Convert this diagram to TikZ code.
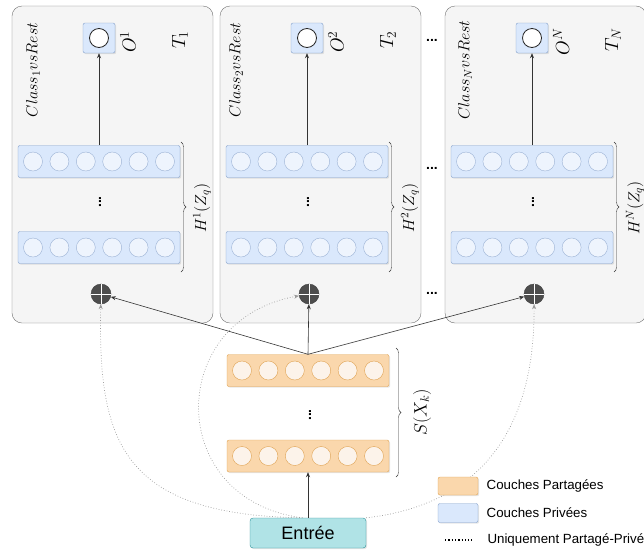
\RequirePackage{fix-cm}
\documentclass[tikz,border=0pt]{standalone}
\usepackage{amsmath,amssymb}
\usepackage{fontspec}
\setsansfont{Liberation Sans}
\usepackage{tikz}
\usepackage{xcolor}
\usetikzlibrary{arrows.meta,shadows,decorations.pathreplacing}

\definecolor{panelfill}{HTML}{F5F5F5}
\definecolor{paneldraw}{HTML}{707070}
\definecolor{privfill}{HTML}{DAE8FC}
\definecolor{privdraw}{HTML}{829FCA}
\definecolor{privcellfill}{HTML}{EEF4FD}
\definecolor{sharefill}{HTML}{FAD7AC}
\definecolor{sharedraw}{HTML}{DFA150}
\definecolor{sharecellfill}{HTML}{FCF3EA}
\definecolor{inputfill}{HTML}{B0E3E6}
\definecolor{inputdraw}{HTML}{2E9299}
\definecolor{plusfill}{HTML}{4D4D4D}

\begin{document}
\begin{tikzpicture}[x=1pt,y=-1pt]
	\tikzstyle{panel} = [draw=paneldraw, fill=panelfill, rounded corners=10pt, minimum width=201pt, minimum height=317pt, inner sep=0pt]
	\tikzstyle{privlayer} = [draw=privdraw, fill=privfill, rounded corners=2pt, minimum width=162pt, minimum height=32pt, inner sep=0pt, drop shadow={shadow xshift=1.2pt, shadow yshift=-1.2pt, opacity=.2}]
	\tikzstyle{sharelayer} = [privlayer, draw=sharedraw, fill=sharefill]
	\tikzstyle{privcell} = [draw=privdraw!80, fill=privcellfill]
	\tikzstyle{sharecell} = [draw=sharedraw, fill=sharecellfill]
	\tikzstyle{outbox} = [privlayer, minimum width=32pt, minimum height=30pt]
	\tikzstyle{outcell} = [circle, draw=black!85, fill=white, line width=0.8pt, minimum size=19pt, inner sep=0pt]
	\tikzstyle{plus} = [circle, draw=plusfill!80!black, fill=plusfill, minimum size=20pt, inner sep=0pt]
	\tikzstyle{mathlab} = [rotate=90, inner sep=0pt, font=\fontsize{16}{19}\selectfont]
	\tikzstyle{biglab} = [mathlab, font=\fontsize{19}{22}\selectfont]
	\tikzstyle{dotsnode} = [inner sep=0pt, font=\sffamily\bfseries\fontsize{14}{14}\selectfont]
	\tikzstyle{brace} = [draw=black!80, decorate, decoration={brace, amplitude=5pt}]
	\tikzstyle{arr} = [draw=black!80, line width=0.6pt, -{Stealth[length=5pt,width=4pt]}]
	\tikzstyle{shareonly} = [draw=black!40, dotted, line width=0.7pt, -{Stealth[length=5pt,width=4pt]}]
	\tikzstyle{inputbox} = [draw=inputdraw, fill=inputfill, rounded corners=3pt, minimum width=116pt, minimum height=30pt, inner sep=0pt, font=\sffamily\fontsize{18}{20}\selectfont, drop shadow={shadow xshift=1.2pt, shadow yshift=-1.2pt, opacity=.2}]
	\tikzstyle{legendtext} = [font=\sffamily\fontsize{13.3}{15}\selectfont, label distance=5pt]
	\useasboundingbox (0,0) rectangle (644,552);

	% one panel per class
	\foreach \k/\dx/\cx in {1/0/33, 2/208/236, N/433/465} {
		\node[panel] (panel\k) at ({112.5+\dx},164.5) {};
		\node[outbox] (out\k) at ({99+\dx},38) {};
		\node[outcell] (oc\k) at (out\k) {};
		\node[biglab] (olab\k) at ({128+\dx},42) {$O^{\k}$};
		\node[biglab] (tlab\k) at ({180+\dx},40) {$T_{\k}$};
		\node[mathlab] (clab\k) at (\cx,70) {$Class_{\k}vsRest$};
		\node[privlayer] (ha\k) at ({99+\dx},161.5) {};
		\node[privlayer] (hb\k) at ({99+\dx},247.5) {};
		\foreach \i in {-2.5,-1.5,...,2.5}
			\filldraw[privcell] (ha\k) ++({\i*26.4},0) circle (9.5pt)
			                    (hb\k) ++({\i*26.4},0) circle (9.5pt);
		\node[dotsnode, rotate=90] (vd\k) at ({100+\dx},202) {...};
		\draw[brace] ({181+\dx},142) -- ({181+\dx},272);
		\node[mathlab] (hlab\k) at ({202+\dx},208) {$H^{\k}(Z_q)$};
		\node[plus] (plus\k) at ({101+\dx},294) {};
		\draw[white, line width=0.8pt] (plus\k.north) -- (plus\k.south)
		                               (plus\k.west) -- (plus\k.east);
		\draw[arr] (ha\k.north) -- (out\k.south);
	}
	\node[dotsnode] (dotsa) at (432,40) {...};
	\node[dotsnode] (dotsb) at (432,168) {...};
	\node[dotsnode] (dotsc) at (432,293) {...};

	% shared part
	\node[sharelayer] (sa) at (308,370.5) {};
	\node[sharelayer] (sb) at (308,456) {};
	\foreach \i in {-2.5,-1.5,...,2.5}
		\filldraw[sharecell] (sa) ++({\i*26.4},0) circle (9.5pt)
		                     (sb) ++({\i*26.4},0) circle (9.5pt);
	\node[dotsnode, rotate=90] (vds) at (310,415) {...};
	\draw[brace] (396,348) -- (396,477);
	\node[mathlab, font=\fontsize{18}{21}\selectfont] (slab) at (422,412) {$S(X_k)$};
	\node[inputbox] (entree) at (308,533) {Entrée};

	\draw[arr] (entree.north) -- (sb.south);
	\draw[arr] (sa.north) -- (plus1);
	\draw[arr] (sa.north) -- (plus2);
	\draw[arr] (sa.north) -- (plusN);
	\draw[shareonly] (entree.110) .. controls (120,515) and (98,440) .. (plus1);
	\draw[shareonly] (entree.110) .. controls (165,500) and (165,320) .. (plus2);
	\draw[shareonly] (entree.north east) .. controls (480,505) and (535,430) .. (plusN);

	% legend
	\node[sharelayer, minimum width=40pt, minimum height=18pt] (legshare) at (458,486) [label={[legendtext]right:Couches Partagées}] {};
	\node[privlayer, minimum width=40pt, minimum height=19pt] (legpriv) at (458,513) [label={[legendtext]right:Couches Privées}] {};
	\coordinate (legdota) at (445,540);
	\coordinate (legdotb) at (472,540);
	\draw[black, dotted, line width=1.3pt] (legdota) -- (legdotb);
	\node[legendtext, anchor=west] (legonly) at (484,540) {Uniquement Partagé-Privé};
\end{tikzpicture}
\end{document}
